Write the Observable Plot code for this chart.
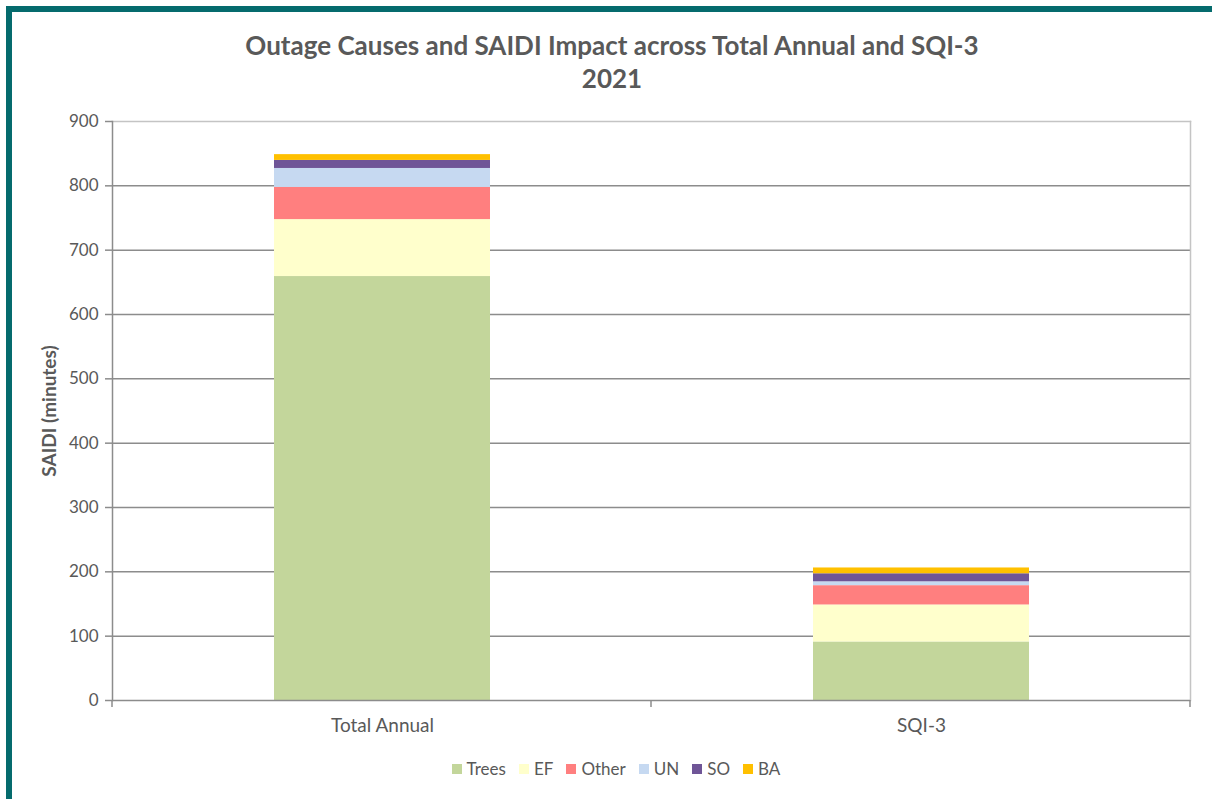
<!DOCTYPE html>
<html>
<head>
<meta charset="utf-8">
<script src="https://cdn.jsdelivr.net/npm/d3@7"></script>
<script src="https://cdn.jsdelivr.net/npm/@observablehq/plot@0.6"></script>
<style>
  html, body { margin: 0; padding: 0; background: #fff; }
  body { width: 1212px; height: 799px; position: relative; overflow: hidden; font-family: Lato, "Open Sans", sans-serif; }
  #frame { position: absolute; left: 6px; top: 6px; width: 1220px; height: 790px; border-left: 6px solid #056b6d; border-top: 6px solid #056b6d; border-bottom: 1px solid #9aa3a3; }
  #title { position: absolute; left: 12px; width: 1200px; top: 29px; text-align: center; font-weight: bold; font-size: 26px; color: #595959; line-height: 33px; }
  #chart { position: absolute; left: 0; top: 100px; }
  #legend { position: absolute; left: 16px; width: 1200px; top: 758px; display: flex; justify-content: center; gap: 13px; font-size: 17px; color: #595959; }
  .item { display: flex; align-items: center; gap: 5px; }
  .sw { width: 10px; height: 10px; display: inline-block; }
</style>
</head>
<body>
<div id="frame"></div>
<div id="title">Outage Causes and SAIDI Impact across Total Annual and SQI-3<br>2021</div>
<div id="chart"></div>
<div id="legend"></div>
<script>
const categories = ["Total Annual", "SQI-3"];
const causes = ["Trees", "EF", "Other", "UN", "SO", "BA"];
const totalAnnual = [659, 88.5, 50, 29.5, 12.5, 9];
const sqi3 = [91, 57.5, 30, 6, 12.5, 9];
const colors = ["#c3d69b", "#ffffcc", "#ff7f7f", "#c6d9f1", "#6f5597", "#ffc000"];
const yTicks = [0, 100, 200, 300, 400, 500, 600, 700, 800, 900];

const data = [];
causes.forEach((c, i) => {
  data.push({category: categories[0], cause: c, value: totalAnnual[i]});
  data.push({category: categories[1], cause: c, value: sqi3[i]});
});

const chart = Plot.plot({
  width: 1212,
  height: 650,
  marginTop: 21,
  marginBottom: 50,
  marginLeft: 112,
  marginRight: 22,
  style: {fontFamily: "Lato, 'Open Sans', sans-serif", fontSize: "16px", color: "#595959", background: "transparent"},
  x: {domain: categories, paddingInner: 0.6, paddingOuter: 0.3, label: null},
  y: {domain: [0, 900], label: null},
  color: {domain: causes, range: colors},
  marks: [
    Plot.gridY(yTicks.filter(d => d > 0 && d < 900), {stroke: "#8c8c8c", strokeOpacity: 1, strokeWidth: 1.5}),
    Plot.barY(data, Plot.stackY({order: causes}, {x: "category", y: "value", fill: "cause", inset: 0})),
    Plot.frame({anchor: "top", stroke: "#c4c4c4", strokeWidth: 1.5}),
    Plot.frame({anchor: "right", stroke: "#c4c4c4", strokeWidth: 1.5}),
    Plot.frame({anchor: "left", stroke: "#8c8c8c", strokeWidth: 1.5}),
    Plot.ruleY([0], {stroke: "#8c8c8c", strokeWidth: 1.5}),
    Plot.axisY({ticks: yTicks, tickSize: 7, tickPadding: 7, stroke: "#8c8c8c", strokeWidth: 1.5, fill: "#595959", fontSize: 17,
      label: "SAIDI (minutes)", labelAnchor: "center", labelArrow: "none", labelOffset: 70}),
    Plot.axisX({tickSize: 0, tickPadding: 18, fill: "#595959", fontSize: 19})
  ]
});
document.getElementById("chart").appendChild(chart);

// boundary ticks on x axis between categories
const xs = chart.scale("x");
const [r0, r1] = xs.range;
const step = (r1 - r0) / categories.length;
const svg = d3.select(chart.tagName.toLowerCase() === "svg" ? chart : chart.querySelector("svg"));
const yBase = chart.scale("y").apply(0);
d3.range(categories.length + 1).forEach(i => {
  svg.append("line")
    .attr("x1", r0 + i * step).attr("x2", r0 + i * step)
    .attr("y1", yBase).attr("y2", yBase + 7)
    .attr("stroke", "#8c8c8c").attr("stroke-width", 1.5);
});
// bold y label
svg.selectAll("g[aria-label='y-axis label'] text").attr("font-weight", "bold").attr("font-size", "19px");

const legend = d3.select("#legend");
causes.forEach((c, i) => {
  const it = legend.append("div").attr("class", "item");
  it.append("span").attr("class", "sw").style("background", colors[i]);
  it.append("span").text(c);
});
</script>
</body>
</html>
